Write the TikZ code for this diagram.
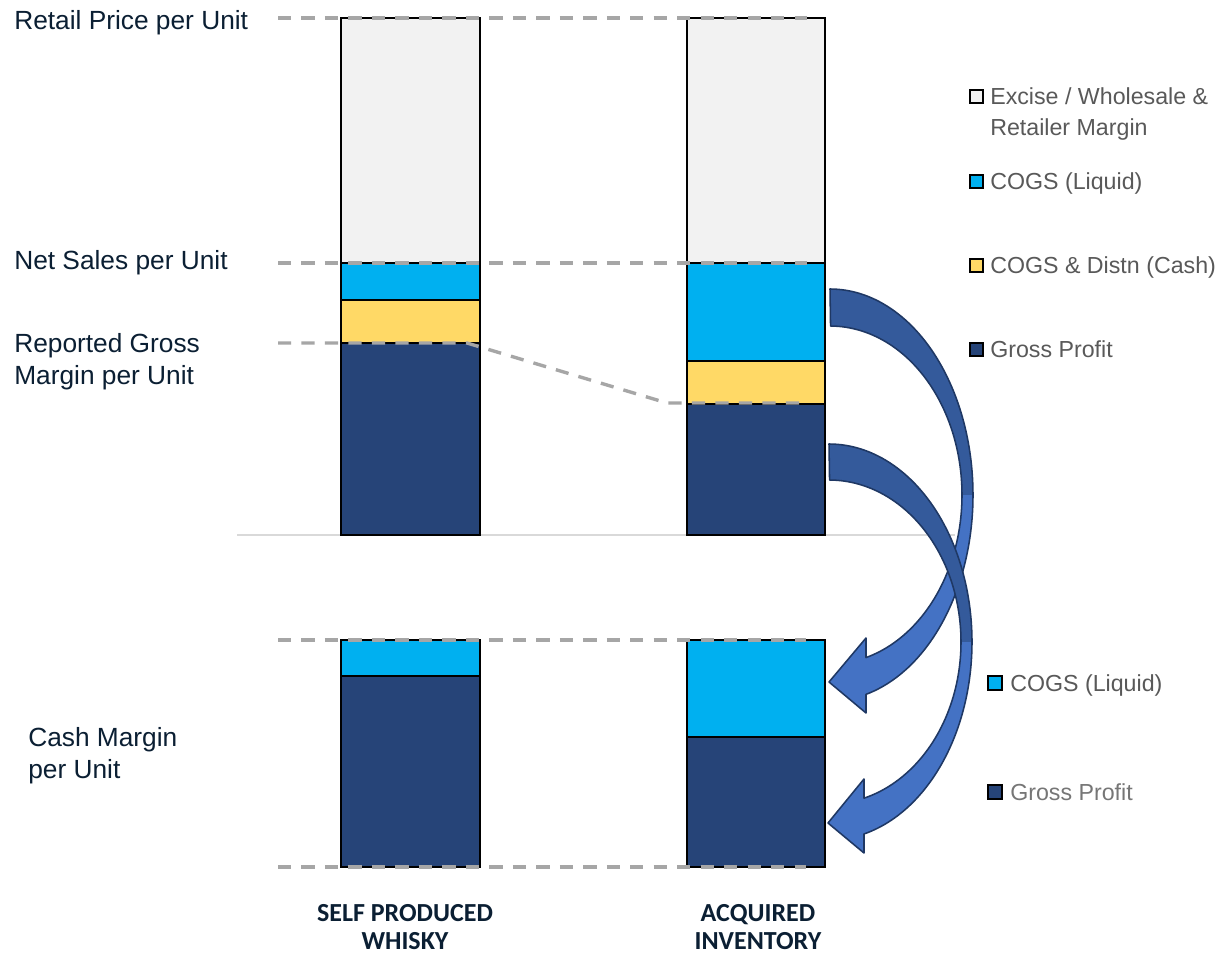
\documentclass[tikz,border=0pt]{standalone}
\usepackage{fontspec}
\newfontfamily\labfont{Liberation Sans}
\newfontfamily\calfont{Carlito}
\definecolor{exc}{HTML}{F2F2F2}
\definecolor{liq}{HTML}{00B0F0}
\definecolor{cash}{HTML}{FFD966}
\definecolor{gp}{HTML}{264478}
\definecolor{dashc}{HTML}{A6A6A6}
\definecolor{basec}{HTML}{D9D9D9}
\definecolor{navytxt}{HTML}{0B1F33}
\definecolor{legtxt}{HTML}{595959}
\definecolor{legtxtb}{HTML}{767676}
\definecolor{arrdk}{HTML}{345A9B}
\definecolor{arrlt}{HTML}{4472C4}
\definecolor{arrln}{HTML}{1F3864}
\begin{document}
\begin{tikzpicture}[x=0.025cm,y=-0.025cm,
  seg/.style={draw=black,line width=1.4pt},
  guide/.style={draw=dashc,line width=2.4pt,dash pattern=on 9.4pt off 7.3pt},
  lab/.style={font=\labfont\fontsize{18.7}{22.8}\selectfont,text=navytxt,inner sep=0pt,anchor=base west},
  leg/.style={font=\labfont\fontsize{16.5}{22}\selectfont,text=legtxt,inner sep=0pt,anchor=base west},
  keybox/.style={draw=black,line width=1.1pt},
  cat/.style={font=\calfont\bfseries\fontsize{18.5}{21.3}\selectfont,text=navytxt,inner sep=0pt,anchor=base},
  arrback/.style={fill=arrdk},
  arrfront/.style={fill=arrlt},
  arredge/.style={draw=arrln,line width=1.1pt,line join=round}]
\useasboundingbox (0,0) rectangle (1217,957);
\fill[white] (0,0) rectangle (1217,957);

% baseline
\draw[basec,line width=1.8pt] (237,535) -- (955,535);

% left top bar
\filldraw[seg,fill=exc] (341,18) rectangle (480,263);
\filldraw[seg,fill=liq] (341,263) rectangle (480,300);
\filldraw[seg,fill=cash] (341,300) rectangle (480,343);
\filldraw[seg,fill=gp] (341,343) rectangle (480,535);
% right top bar
\filldraw[seg,fill=exc] (687,18) rectangle (825,263);
\filldraw[seg,fill=liq] (687,263) rectangle (825,361);
\filldraw[seg,fill=cash] (687,361) rectangle (825,404);
\filldraw[seg,fill=gp] (687,404) rectangle (825,535);
% left bottom bar
\filldraw[seg,fill=liq] (341,640) rectangle (480,676);
\filldraw[seg,fill=gp] (341,676) rectangle (480,867);
% right bottom bar
\filldraw[seg,fill=liq] (687,640) rectangle (825,737);
\filldraw[seg,fill=gp] (687,737) rectangle (825,867);

% guide lines
\draw[guide] (278,18) -- (807,18);
\draw[guide] (278,263) -- (807,263);
\draw[guide] (278,343) -- (467,343) -- (667,403) -- (808,403);
\draw[guide] (278,640) -- (806,640);
\draw[guide] (278,867) -- (806,867);

% arrow 1 (COGS liquid)
\fill[arrback] plot[domain=-90:0,samples=50] ({830+143*cos(\x)},{495+206*sin(\x)})
  -- plot[domain=0:1,samples=50] ({830+132*cos(-90*\x)},{495+169*sin(-90*\x)}) -- cycle;
\fill[arrfront] plot[domain=0:75.42,samples=50] ({830+143*cos(\x)},{495+206*sin(\x)})
  -- (866,713) -- (829,682) -- (866,638)
  -- plot[domain=0:1,samples=50] ({830+132*cos(74.17*(1-\x))},{495+169*sin(74.17*(1-\x))}) -- cycle;
\draw[arredge] plot[domain=-90:75.42,samples=100] ({830+143*cos(\x)},{495+206*sin(\x)})
  -- (866,713) -- (829,682) -- (866,638)
  -- plot[domain=0:1,samples=100] ({830+132*cos(74.17-164.17*\x)},{495+169*sin(74.17-164.17*\x)}) -- cycle;

% arrow 2 (Gross profit)
\fill[arrback] plot[domain=-90:0,samples=50] ({829+143*cos(\x)},{642+198*sin(\x)})
  -- plot[domain=0:1,samples=50] ({829+132*cos(-90*\x)},{642+162*sin(-90*\x)}) -- cycle;
\fill[arrfront] plot[domain=0:75.83,samples=50] ({829+143*cos(\x)},{642+198*sin(\x)})
  -- (864,853) -- (828,823) -- (864,779)
  -- plot[domain=0:1,samples=50] ({829+132*cos(74.62*(1-\x))},{642+162*sin(74.62*(1-\x))}) -- cycle;
\draw[arredge] plot[domain=-90:75.83,samples=100] ({829+143*cos(\x)},{642+198*sin(\x)})
  -- (864,853) -- (828,823) -- (864,779)
  -- plot[domain=0:1,samples=100] ({829+132*cos(74.62-164.62*\x)},{642+162*sin(74.62-164.62*\x)}) -- cycle;

% left labels
\node[lab] (lretail) at (14,30) {Retail Price per Unit};
\node[lab] (lnet) at (14,270) {Net Sales per Unit};
\node[lab] (lrepa) at (14,353) {Reported Gross};
\node[lab] (lrepb) at (14,385) {Margin per Unit};
\node[lab] (lcasha) at (28,746) {Cash Margin};
\node[lab] (lcashb) at (28,778) {per Unit};

% legend top
\draw[keybox,fill=exc] (970,90) rectangle (983,103);
\draw[keybox,fill=liq] (970,175) rectangle (983,188);
\draw[keybox,fill=cash] (970,259) rectangle (983,272);
\draw[keybox,fill=gp] (970,343) rectangle (983,356);
\node[leg] (lgexa) at (990,105) {Excise / Wholesale \&};
\node[leg] (lgexb) at (990,136) {Retailer Margin};
\node[leg] (lgliq) at (990,190) {COGS (Liquid)};
\node[leg] (lgcash) at (990,274) {COGS \& Distn (Cash)};
\node[leg] (lggp) at (990,358) {Gross Profit};

% legend bottom
\draw[keybox,fill=liq] (988,676) rectangle (1002,690);
\draw[keybox,fill=gp] (988,785) rectangle (1002,799);
\node[leg] (lbliq) at (1010,691) {COGS (Liquid)};
\node[leg,text=legtxtb] (lbgp) at (1010,800) {Gross Profit};

% category labels
\node[cat] (cselfa) at (405,921) {SELF PRODUCED};
\node[cat] (cselfb) at (405,949) {WHISKY};
\node[cat] (cacqa) at (758,921) {ACQUIRED};
\node[cat] (cacqb) at (758,949) {INVENTORY};
\end{tikzpicture}
\end{document}
